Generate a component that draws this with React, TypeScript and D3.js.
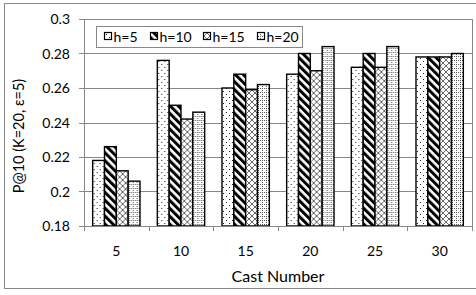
import React from 'react';
import * as d3 from 'd3';

const categories = ['5', '10', '15', '20', '25', '30'];
const seriesNames = ['h=5', 'h=10', 'h=15', 'h=20'];
const h5 = [0.218, 0.276, 0.26, 0.268, 0.272, 0.278];
const h10 = [0.226, 0.25, 0.268, 0.28, 0.28, 0.278];
const h15 = [0.212, 0.242, 0.259, 0.27, 0.272, 0.278];
const h20 = [0.206, 0.246, 0.262, 0.284, 0.284, 0.28];
const seriesValues = [h5, h10, h15, h20];
const yTicks = [0.18, 0.2, 0.22, 0.24, 0.26, 0.28, 0.3];

const W = 476;
const H = 295;
const plot = { left: 84, right: 472, top: 19, bottom: 226 };
const FONT = 'Lato, "Open Sans", sans-serif';
const GRID = '#878787';

const patternIds = ['pat-dots', 'pat-stripes', 'pat-cross', 'pat-grid'];

const Patterns: React.FC = () => (
  <defs>
    {/* sparse dots */}
    <pattern id="pat-dots" patternUnits="userSpaceOnUse" width={6} height={6}>
      <rect width={6} height={6} fill="#fff" />
      <rect x={1} y={1} width={1} height={1} fill="#222" />
      <rect x={4} y={4} width={1} height={1} fill="#222" />
    </pattern>
    {/* wide downward diagonal */}
    <pattern id="pat-stripes" patternUnits="userSpaceOnUse" width={5.6} height={5.6} patternTransform="rotate(-45)">
      <rect width={5.6} height={5.6} fill="#fff" />
      <rect width={3} height={5.6} fill="#000" />
    </pattern>
    {/* outlined diamond */}
    <pattern id="pat-cross" patternUnits="userSpaceOnUse" width={6} height={6}>
      <rect width={6} height={6} fill="#fff" />
      <path d="M0,0L6,6M6,0L0,6" stroke="#666" strokeWidth={1} />
    </pattern>
    {/* dotted grid */}
    <pattern id="pat-grid" patternUnits="userSpaceOnUse" width={4} height={4}>
      <rect width={4} height={4} fill="#fff" />
      <rect x={0} y={0} width={1} height={1} fill="#555" />
      <rect x={2} y={0} width={1} height={1} fill="#555" />
      <rect x={0} y={2} width={1} height={1} fill="#555" />
    </pattern>
  </defs>
);

const App: React.FC = () => {
  const x0 = d3.scaleBand<string>()
    .domain(categories)
    .range([plot.left, plot.right])
    .paddingInner(0.268)
    .paddingOuter(0.134);
  const x1 = d3.scaleBand<string>()
    .domain(seriesNames)
    .range([0, x0.bandwidth()])
    .padding(0);
  const y = d3.scaleLinear().domain([0.18, 0.3]).range([plot.bottom, plot.top]);
  const step = x0.step();
  const catEdges = d3.range(categories.length + 1).map(i => plot.left + i * step);

  const legendX = [104, 150, 203, 257];

  return (
    <div style={{ position: 'fixed', left: 0, top: 0 }}>
      <svg width={W} height={H} style={{ display: 'block', background: '#fff' }} fontFamily={FONT}>
        <Patterns />
        <rect x={4.5} y={3.5} width={476} height={285} fill="#fff" stroke="#888" />

        {/* gridlines */}
        {yTicks.map(t => (
          <line key={t} x1={plot.left} x2={plot.right} y1={Math.round(y(t)) + 0.5} y2={Math.round(y(t)) + 0.5} stroke={GRID} />
        ))}
        <line x1={plot.right + 0.5} x2={plot.right + 0.5} y1={plot.top} y2={plot.bottom + 4} stroke={GRID} />

        {/* y axis */}
        <line x1={plot.left + 0.5} x2={plot.left + 0.5} y1={plot.top} y2={plot.bottom} stroke={GRID} />
        {yTicks.map(t => (
          <g key={'yt' + t}>
            <line x1={plot.left - 5} x2={plot.left} y1={Math.round(y(t)) + 0.5} y2={Math.round(y(t)) + 0.5} stroke={GRID} />
            <text x={70} y={y(t) + 5} textAnchor="end" fontSize={14} fill="#000">{String(t)}</text>
          </g>
        ))}

        {/* x axis */}
        {catEdges.map((e, i) => (
          <line key={'xt' + i} x1={Math.round(e) + 0.5} x2={Math.round(e) + 0.5} y1={plot.bottom} y2={plot.bottom + 5} stroke={GRID} />
        ))}
        {categories.map(c => (
          <text key={'xl' + c} x={(x0(c) ?? 0) + x0.bandwidth() / 2} y={256} textAnchor="middle" fontSize={14} fill="#000">{c}</text>
        ))}

        {/* bars */}
        {categories.map((c, ci) => (
          <g key={'g' + c} transform={`translate(${x0(c)},0)`}>
            {seriesNames.map((s, si) => (
              <rect
                key={s}
                x={x1(s)}
                y={y(seriesValues[si][ci])}
                width={x1.bandwidth()}
                height={plot.bottom - y(seriesValues[si][ci])}
                fill={`url(#${patternIds[si]})`}
                stroke="#000"
                strokeWidth={1.4}
              />
            ))}
          </g>
        ))}
        <line x1={plot.left} x2={plot.right} y1={plot.bottom + 0.5} y2={plot.bottom + 0.5} stroke={GRID} />

        {/* legend */}
        <rect x={96.5} y={26.5} width={206} height={21} fill="#fff" stroke="#888" />
        {seriesNames.map((s, i) => (
          <g key={'lg' + s}>
            <rect x={legendX[i] + 0.5} y={32.5} width={7} height={7} fill={`url(#${patternIds[i]})`} stroke="#000" strokeWidth={1.2} />
            <text x={legendX[i] + 9.5} y={41.5} fontSize={14} fill="#000">{s}</text>
          </g>
        ))}

        {/* axis titles */}
        <text x={(plot.left + plot.right) / 2} y={282} textAnchor="middle" fontSize={16} fill="#000">Cast Number</text>
        <text transform="translate(24,136) rotate(-90)" textAnchor="middle" fontSize={14.5} fill="#000">P@10 (K=20, ε=5)</text>
      </svg>
    </div>
  );
};

export default App;
